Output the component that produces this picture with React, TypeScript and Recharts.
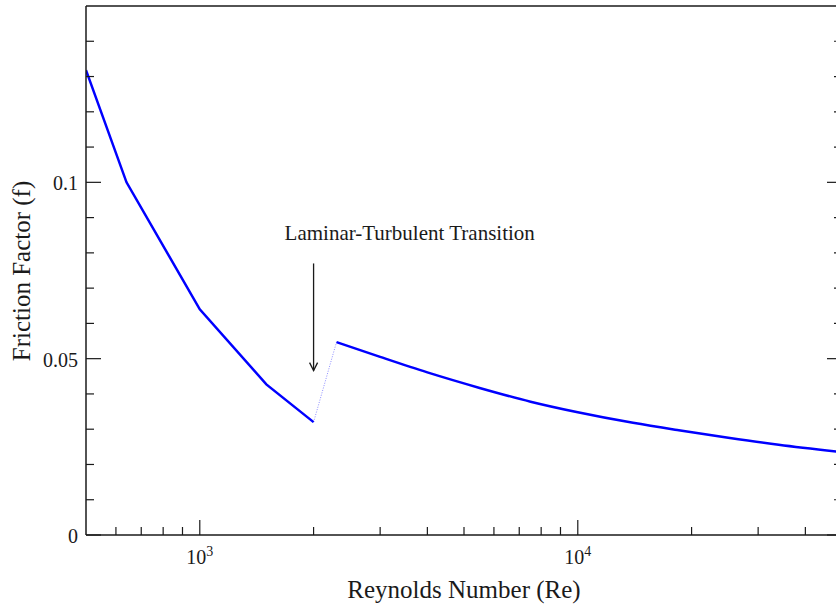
import React from 'react'
import { LineChart, Line, XAxis, YAxis, ReferenceLine } from 'recharts'

const laminarRe = [500, 640, 1000, 1500, 2000]
const laminarF = [0.1318, 0.1, 0.064, 0.0427, 0.032]

const transitionRe = [2000, 2300]
const transitionF = [0.032, 0.0547]

const turbulentRe = [2300, 3000, 4000, 5500, 7500, 10000, 14000, 18500, 25000, 34000, 50000]
const turbulentF = [0.0547, 0.0505, 0.0461, 0.0417, 0.0378, 0.0348, 0.0318, 0.0297, 0.0276, 0.0256, 0.0235]

const majorRe = [1000, 10000]
const minorRe = [600, 700, 800, 900, 2000, 3000, 4000, 5000, 6000, 7000, 8000, 9000, 20000, 30000, 40000]
const majorF = [0, 0.05, 0.1]
const minorF = [0.01, 0.02, 0.03, 0.04, 0.06, 0.07, 0.08, 0.09, 0.11, 0.12, 0.13, 0.14]

// annotation arrow: Re and f at top and tip
const arrowRe = 2000
const arrowTopF = 0.077
const arrowTipF = 0.0466
const arrowText = 'Laminar-Turbulent Transition'

const FONT = '"Liberation Serif", "Times New Roman", serif'
const INK = '#1a1a1a'
const BLUE = '#0000ff'

const toRows = (xs: number[], ys: number[]) => xs.map((re, i) => ({ re, f: ys[i] }))
const laminar = toRows(laminarRe, laminarF)
const transition = toRows(transitionRe, transitionF)
const turbulent = toRows(turbulentRe, turbulentF)

const xTicks = [...majorRe, ...minorRe].sort((a, b) => a - b)
const yTicks = [...majorF, ...minorF].sort((a, b) => a - b)

function BottomTick({ x, y, payload }: any) {
  const major = majorRe.includes(payload.value)
  const exp = Math.round(Math.log10(payload.value))
  return (
    <g>
      <line x1={x} y1={y} x2={x} y2={y - (major ? 15 : 8)} stroke={INK} strokeWidth={1.2} />
      {major && (
        <text x={x} y={y + 29} textAnchor="middle" fontSize={20} fill={INK} fontFamily={FONT}>
          10
          <tspan dy={-8} fontSize={14}>{exp}</tspan>
        </text>
      )}
    </g>
  )
}

function TopTick({ x, y, payload }: any) {
  const major = majorRe.includes(payload.value)
  return <line x1={x} y1={y} x2={x} y2={y + (major ? 15 : 8)} stroke={INK} strokeWidth={1.2} />
}

function LeftTick({ x, y, payload }: any) {
  const major = majorF.includes(payload.value)
  return (
    <g>
      <line x1={x} y1={y} x2={x + (major ? 15 : 8)} y2={y} stroke={INK} strokeWidth={1.2} />
      {major && (
        <text x={x - 8} y={y + 8} textAnchor="end" fontSize={20} fill={INK} fontFamily={FONT}>
          {String(payload.value)}
        </text>
      )}
    </g>
  )
}

function RightTick({ x, y, payload }: any) {
  const major = majorF.includes(payload.value)
  return <line x1={x} y1={y} x2={x - (major ? 15 : 8)} y2={y} stroke={INK} strokeWidth={1.2} />
}

function Arrow({ x1, y1, x2, y2 }: any) {
  return (
    <g>
      <line x1={x1} y1={y1} x2={x2} y2={y2} stroke={INK} strokeWidth={1.3} />
      <polyline
        points={`${x2 - 4},${y2 - 8} ${x2},${y2} ${x2 + 4},${y2 - 8}`}
        fill="none"
        stroke={INK}
        strokeWidth={1.3}
      />
      <text x={x1 - 29} y={y1 - 23} fontSize={21} fill={INK} fontFamily={FONT}>
        {arrowText}
      </text>
    </g>
  )
}

export default function App() {
  return (
    <div
      style={{
        position: 'absolute',
        left: 0,
        top: 0,
        width: 836,
        height: 614,
        overflow: 'hidden',
        background: '#fff',
      }}
    >
      {/* axes get 1px boxes, so plot area is x 86..842, y 6..535 */}
      <LineChart width={850} height={614} margin={{ top: 5, right: 7, bottom: 78, left: 85 }}>
        <XAxis
          xAxisId={0}
          dataKey="re"
          type="number"
          scale="log"
          domain={[500, 50000]}
          allowDataOverflow
          ticks={xTicks}
          interval={0}
          height={1}
          tickSize={0}
          tickMargin={0}
          tick={<BottomTick />}
          axisLine={{ stroke: INK, strokeWidth: 1.5 }}
        />
        <XAxis
          xAxisId="top"
          orientation="top"
          type="number"
          scale="log"
          domain={[500, 50000]}
          allowDataOverflow
          ticks={xTicks}
          interval={0}
          height={1}
          tickSize={0}
          tickMargin={0}
          tick={<TopTick />}
          axisLine={{ stroke: INK, strokeWidth: 1.5 }}
        />
        <YAxis
          yAxisId={0}
          type="number"
          domain={[0, 0.15]}
          allowDataOverflow
          ticks={yTicks}
          interval={0}
          width={1}
          tickSize={0}
          tickMargin={0}
          tick={<LeftTick />}
          axisLine={{ stroke: INK, strokeWidth: 1.5 }}
        />
        <YAxis
          yAxisId="right"
          orientation="right"
          type="number"
          domain={[0, 0.15]}
          allowDataOverflow
          ticks={yTicks}
          interval={0}
          width={1}
          tickSize={0}
          tickMargin={0}
          tick={<RightTick />}
          axisLine={{ stroke: INK, strokeWidth: 1.5 }}
        />
        <Line
          data={transition}
          dataKey="f"
          type="linear"
          stroke="#8c8cff"
          strokeWidth={1}
          strokeDasharray="1 1.5"
          dot={false}
          isAnimationActive={false}
        />
        <Line
          data={laminar}
          dataKey="f"
          type="linear"
          stroke={BLUE}
          strokeWidth={2.5}
          dot={false}
          isAnimationActive={false}
        />
        <Line
          data={turbulent}
          dataKey="f"
          type="monotone"
          stroke={BLUE}
          strokeWidth={2.5}
          dot={false}
          isAnimationActive={false}
        />
        <ReferenceLine
          segment={[
            { x: arrowRe, y: arrowTopF },
            { x: arrowRe, y: arrowTipF },
          ]}
          ifOverflow="visible"
          shape={Arrow}
        />
      </LineChart>
      <svg
        width={836}
        height={614}
        style={{ position: 'absolute', left: 0, top: 0, pointerEvents: 'none' }}
      >
        <text x={464} y={598} textAnchor="middle" fontSize={25} fill={INK} fontFamily={FONT}>
          Reynolds Number (Re)
        </text>
        <text
          x={30}
          y={271}
          transform="rotate(-90 30 271)"
          textAnchor="middle"
          fontSize={25}
          fill={INK}
          fontFamily={FONT}
        >
          Friction Factor (f)
        </text>
      </svg>
    </div>
  )
}
